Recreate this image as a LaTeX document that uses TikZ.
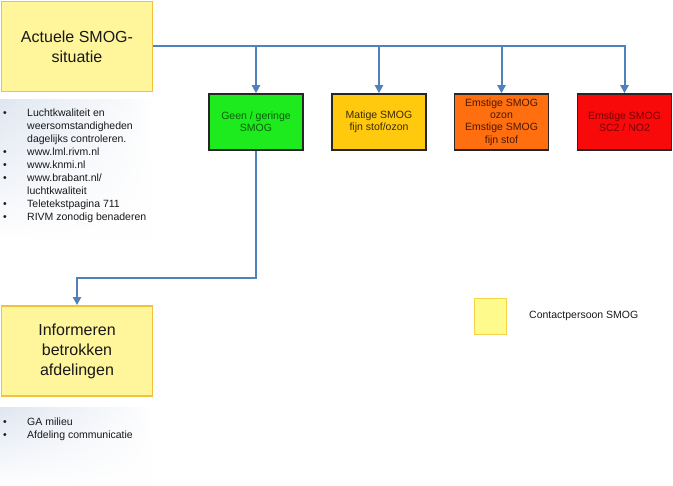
\documentclass[tikz,border=0pt]{standalone}
\usepackage{fontspec}
\setmainfont{Liberation Sans}
\usetikzlibrary{arrows.meta,fadings}
\definecolor{connblue}{HTML}{4F81BD}
\definecolor{yfill}{HTML}{FFF59A}
\definecolor{yborder}{HTML}{F2C23E}
\definecolor{lfill}{HTML}{FFFA8C}
\definecolor{lborder}{HTML}{F5D44A}
\definecolor{gfill}{HTML}{1EEB1E}
\definecolor{gtext}{HTML}{0B5E0B}
\definecolor{ofill}{HTML}{FFC90E}
\definecolor{otext}{HTML}{3A2A00}
\definecolor{rfill}{HTML}{FF6F10}
\definecolor{rtext}{HTML}{4A1800}
\definecolor{redfill}{HTML}{F80A0A}
\definecolor{redtext}{HTML}{7A0000}
\definecolor{shadeblue}{HTML}{DDE4F0}
\tikzfading[name=listfade, top color=transparent!10, bottom color=transparent!100]
\begin{document}
\begin{tikzpicture}[x=1pt,y=-1pt,
  bigbox/.style={draw=yborder, fill=yfill, line width=1.8pt, minimum width=151pt, minimum height=90pt,
    align=center, font=\fontsize{16}{20}\selectfont, text=black!90, inner sep=0pt},
  levelbox/.style={draw=black!85, line width=1.5pt, minimum width=94pt, minimum height=56pt,
    align=center, font=\fontsize{10.5}{12.4}\selectfont, inner sep=0pt},
  conn/.style={draw=connblue, line width=2pt, -{Triangle[width=8pt,length=8pt]}},
  listtext/.style={anchor=base west, inner sep=0pt, font=\fontsize{10.5}{12.6}\selectfont, text=black!90},
  bulletmark/.style={anchor=base, inner sep=0pt, font=\fontsize{10.5}{12.6}\selectfont, text=black!90}
]
\useasboundingbox (0,0) rectangle (673,486);
\fill[white] (0,0) rectangle (673,486);
% list backgrounds
\shade[left color=shadeblue, right color=white, path fading=listfade] (0,100) rectangle (155,240);
\shade[left color=shadeblue, right color=white, path fading=listfade] (0,408) rectangle (155,486);

% main boxes
\node[bigbox] (a1) at (77,46.5) {Actuele SMOG-\\situatie};
\node[bigbox] (b2) at (77,351) {Informeren\\betrokken\\afdelingen};

% level boxes
\node[levelbox, fill=gfill, text=gtext] (g1) at (256,122) {Geen / geringe\\SMOG};
\node[levelbox, fill=ofill, text=otext] (g2) at (379,122) {Matige SMOG\\fijn stof/ozon};
\node[levelbox, fill=rfill, text=rtext] (g3) at (501.5,122) {Emstige SMOG\\ozon\\Emstige SMOG\\fijn stof};
\node[levelbox, fill=redfill, text=redtext] (g4) at (624.5,122) {Emstige SMOG\\SC2 / NO2};

% connectors
\draw[conn] (a1.east) -| (g1.north);
\draw[conn] (a1.east) -| (g2.north);
\draw[conn] (a1.east) -| (g3.north);
\draw[conn] (a1.east) -| (g4.north);
\coordinate (bend) at (256,278);
\draw[conn] (g1.south) -- (bend) -| (b2.north);

% list 1
\foreach \t [count=\i] in {Luchtkwaliteit en, weersomstandigheden, dagelijks controleren., www.lml.rivm.nl, www.knmi.nl, www.brabant.nl/, luchtkwaliteit, Teletekstpagina 711, RIVM zonodig benaderen}
  \node[listtext] (la\i) at (27,{117+12.9*(\i-1)}) {\t};
\foreach \i in {1,4,5,6,8,9}
  \node[bulletmark] (ba\i) at (5,{117+12.9*(\i-1)}) {\textbullet};

% list 2
\node[listtext] (lb1) at (27,426) {GA milieu};
\node[listtext] (lb2) at (27,439) {Afdeling communicatie};
\node[bulletmark] (bb1) at (5,426) {\textbullet};
\node[bulletmark] (bb2) at (5,439) {\textbullet};

% legend
\node[draw=lborder, fill=lfill, line width=1.5pt, minimum width=32pt, minimum height=36pt, inner sep=0pt] (lg) at (490.5,316.5) {};
\node[anchor=west, inner sep=0pt, font=\fontsize{10.5}{12.6}\selectfont, text=black!90] (lt) at (529,316) {Contactpersoon SMOG};
\end{tikzpicture}
\end{document}
